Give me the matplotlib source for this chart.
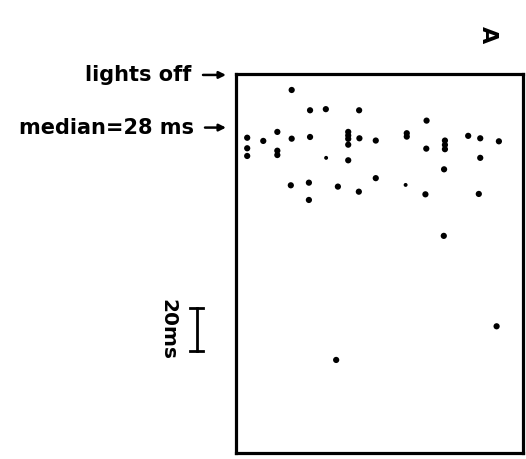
import matplotlib
matplotlib.use("Agg")
import matplotlib.pyplot as plt
import matplotlib.transforms as mtransforms

# Trial position (arbitrary, 0-100 across the panel) and latency (ms after lights off)
x_pos = [19.4, 25.8, 31.3, 42.9, 3.9, 9.5, 14.4, 19.4, 25.8, 39.1, 39.1, 39.1, 39.1,
         43.0, 48.7, 3.9, 3.9, 14.4, 14.4, 39.1, 19.1, 25.4, 25.4, 35.5, 42.8, 48.7,
         66.4, 59.5, 59.5, 66.3, 72.8, 72.8, 72.8, 80.9, 85.1, 91.6, 85.1, 72.5,
         66.0, 84.6, 72.4, 34.9, 90.8]
latency_ms = [8.0, 18.8, 18.2, 18.8, 33.4, 35.1, 30.3, 33.9, 33.0, 30.3, 32.2, 34.0, 37.1,
              33.7, 34.9, 39.0, 43.1, 40.3, 42.6, 45.4, 58.7, 57.3, 66.5, 59.4, 62.1, 54.9,
              24.3, 31.0, 32.8, 39.2, 34.9, 37.2, 39.5, 32.4, 33.7, 35.3, 44.1, 50.2,
              63.5, 63.3, 85.6, 151.6, 133.7]
small_x = [31.4, 59.1]
small_ms = [44.1, 58.5]

median_ms = 28
lights_off_ms = 0
scale_ms = 20

fig = plt.figure(figsize=(5.26, 4.59), dpi=100)
ax = fig.add_axes([236 / 526, 1 - 453 / 459, 287 / 526, 379 / 459])

ax.scatter(x_pos, latency_ms, s=20, color="black", edgecolors="none", zorder=3)
ax.scatter(small_x, small_ms, s=8, color="black", edgecolors="none", zorder=3)

ax.set_xlim(0, 100)
ax.set_ylim(201.1, -0.5)
ax.set_xticks([])
ax.set_yticks([])
for sp in ax.spines.values():
    sp.set_linewidth(2.3)
    sp.set_color("black")

blend = mtransforms.blended_transform_factory(fig.transFigure, ax.transData)

font = dict(fontsize=15, fontweight="heavy", family="DejaVu Sans", color="black")

ax.annotate("", xy=(226 / 526, lights_off_ms), xycoords=blend,
            xytext=(203 / 526, lights_off_ms), textcoords=blend,
            arrowprops=dict(arrowstyle="-|>", color="black", lw=1.8,
                            mutation_scale=10, shrinkA=0, shrinkB=0))
fig.text(191 / 526, 0, "lights off", transform=blend, ha="right", va="center", **font)

ax.annotate("", xy=(226 / 526, median_ms), xycoords=blend,
            xytext=(205 / 526, median_ms), textcoords=blend,
            arrowprops=dict(arrowstyle="-|>", color="black", lw=1.8,
                            mutation_scale=10, shrinkA=0, shrinkB=0))
fig.text(194 / 526, median_ms, "median=28 ms", transform=blend, ha="right",
         va="center", **font)

# scale bar
bar_top = 123.8
bar_bot = bar_top + scale_ms * 1.14
xb = 196.7 / 526
cap = 6.5 / 526
for yv in (bar_top, bar_bot):
    fig.add_artist(plt.Line2D([xb - cap, xb + cap], [yv, yv], transform=blend,
                              color="black", lw=2))
fig.add_artist(plt.Line2D([xb, xb], [bar_top, bar_bot], transform=blend,
                          color="black", lw=2))
fig.text(168 / 526, (bar_top + bar_bot) / 2, "20ms", transform=blend, rotation=-90,
         ha="center", va="center", fontsize=14.5, fontweight="heavy", family="DejaVu Sans")

fig.text(488 / 526, 1 - 35 / 459, "A", rotation=-90, ha="center", va="center",
         fontsize=16, fontweight="heavy", family="DejaVu Sans")

fig.savefig("out.png", dpi=100, facecolor="white")
